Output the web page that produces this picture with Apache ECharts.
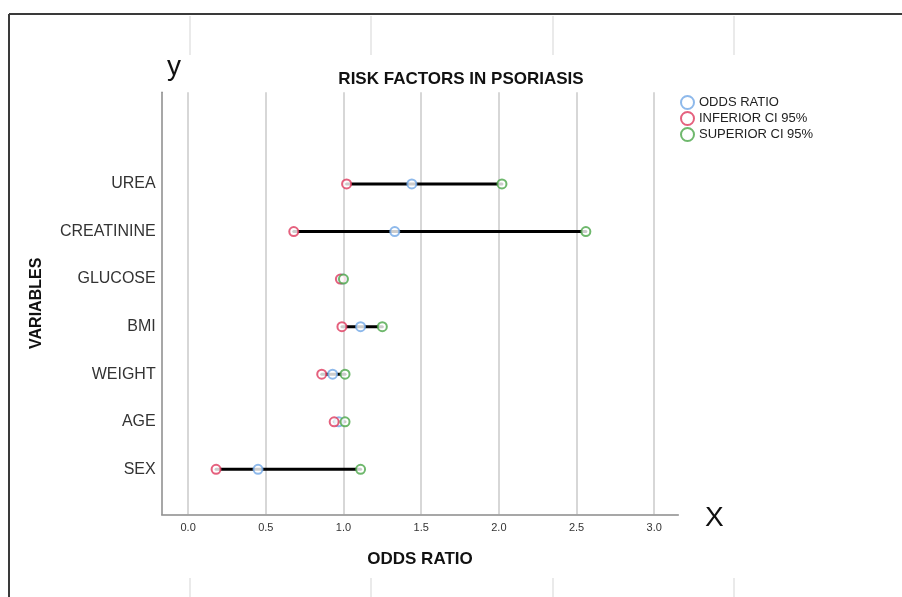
<!DOCTYPE html>
<html>
<head>
<meta charset="utf-8">
<script src="https://cdn.jsdelivr.net/npm/echarts@6/dist/echarts.min.js"></script>
<style>html,body{margin:0;padding:0;background:#fff;}#c{width:902px;height:597px;}</style>
</head>
<body>
<div id="c"></div>
<script>
const categories = ['SEX', 'AGE', 'WEIGHT', 'BMI', 'GLUCOSE', 'CREATININE', 'UREA'];
const oddsRatio  = [0.45, 0.97, 0.93, 1.11, 0.99, 1.33, 1.44];
const inferiorCI = [0.18, 0.94, 0.86, 0.99, 0.98, 0.68, 1.02];
const superiorCI = [1.11, 1.01, 1.01, 1.25, 1.00, 2.56, 2.02];
const seriesNames = ['ODDS RATIO', 'INFERIOR CI 95%', 'SUPERIOR CI 95%'];
const xMin = -0.17, xMax = 3.155;

const FONT = '"Liberation Sans", Arial, sans-serif';
const colors = ['#72a8e6', '#de3a5e', '#4ba649'];

const chart = echarts.init(document.getElementById('c'), null, {renderer: 'canvas'});

function pts(vals) { return categories.map((c, i) => [vals[i], c]); }
const ranges = categories.map((c, i) => [inferiorCI[i], superiorCI[i], c]);

const frame = [
  {type: 'line', shape: {x1: 9, y1: 14, x2: 902, y2: 14}, style: {stroke: '#3a3a3a', lineWidth: 2}},
  {type: 'line', shape: {x1: 9, y1: 14, x2: 9, y2: 597}, style: {stroke: '#3a3a3a', lineWidth: 2}}
];
[190, 371, 553, 734].forEach(x => {
  frame.push({type: 'line', shape: {x1: x, y1: 16, x2: x, y2: 55}, style: {stroke: '#dcdcdc', lineWidth: 1.2}});
  frame.push({type: 'line', shape: {x1: x, y1: 578, x2: x, y2: 597}, style: {stroke: '#dcdcdc', lineWidth: 1.2}});
});
frame.push({type: 'text', left: 167, top: 53, style: {text: 'y', font: '28px ' + FONT, fill: '#111'}});
frame.push({type: 'text', left: 705, top: 504, style: {text: 'X', font: '28px ' + FONT, fill: '#111'}});

chart.setOption({
  animation: false,
  backgroundColor: '#fff',
  title: {
    text: 'RISK FACTORS IN PSORIASIS',
    left: 456, top: 66, textAlign: 'center',
    textStyle: {fontFamily: FONT, fontSize: 17, fontWeight: 'bold', color: '#111'}
  },
  legend: {
    orient: 'vertical', left: 675, top: 90,
    itemWidth: 13, itemHeight: 13, itemGap: 1,
    icon: 'emptyCircle',
    data: seriesNames,
    textStyle: {fontFamily: FONT, fontSize: 13, color: '#222'}
  },
  graphic: frame,
  grid: [
    {left: 161.7, right: 223.7, top: 92.3, bottom: 82.7},
    {left: 161.7, right: 223.7, top: 160.2, bottom: 103.9}
  ],
  xAxis: [
    {
      type: 'value', gridIndex: 0, min: xMin, max: xMax,
      name: 'ODDS RATIO', nameLocation: 'middle', nameGap: 37,
      nameTextStyle: {fontFamily: FONT, fontSize: 17, fontWeight: 'bold', color: '#111'},
      axisLine: {show: true, onZero: false, lineStyle: {color: '#8a8a8a', width: 1.5}},
      axisTick: {show: false},
      axisLabel: {fontFamily: FONT, fontSize: 11, color: '#333', margin: 8,
        showMinLabel: false, showMaxLabel: false, formatter: v => v.toFixed(1)},
      splitLine: {show: true, showMinLine: false, showMaxLine: false, lineStyle: {color: '#cacaca', width: 1.5}}
    },
    {
      type: 'value', gridIndex: 1, min: xMin, max: xMax, show: false,
      splitLine: {show: false}
    }
  ],
  yAxis: [
    {
      type: 'value', gridIndex: 0, min: 0, max: 1,
      name: 'VARIABLES', nameLocation: 'middle', nameRotate: 90, nameGap: 117,
      nameTextStyle: {fontFamily: FONT, fontSize: 16, fontWeight: 'bold', color: '#111'},
      axisLine: {show: true, onZero: false, lineStyle: {color: '#8a8a8a', width: 1.5}},
      axisTick: {show: false}, axisLabel: {show: false}, splitLine: {show: false}
    },
    {
      type: 'category', gridIndex: 1, data: categories,
      axisLine: {show: false, onZero: false}, axisTick: {show: false},
      axisLabel: {fontFamily: FONT, fontSize: 16, color: '#333', margin: 6},
      splitLine: {show: false}
    }
  ],
  series: [
    {
      type: 'custom', xAxisIndex: 1, yAxisIndex: 1, z: 2, silent: true,
      encode: {x: [0, 1], y: 2},
      data: ranges,
      renderItem: function (params, api) {
        const a = api.coord([api.value(0), api.value(2)]);
        const b = api.coord([api.value(1), api.value(2)]);
        return {type: 'line', shape: {x1: a[0], y1: a[1], x2: b[0], y2: b[1]},
          style: {stroke: '#000', lineWidth: 3, lineCap: 'round'}};
      }
    },
    {
      name: seriesNames[0], type: 'scatter', xAxisIndex: 1, yAxisIndex: 1, z: 3,
      symbol: 'emptyCircle', symbolSize: 9, data: pts(oddsRatio),
      itemStyle: {color: colors[0], borderWidth: 1.5}
    },
    {
      name: seriesNames[1], type: 'scatter', xAxisIndex: 1, yAxisIndex: 1, z: 4,
      symbol: 'emptyCircle', symbolSize: 9, data: pts(inferiorCI),
      itemStyle: {color: colors[1], borderWidth: 1.5}
    },
    {
      name: seriesNames[2], type: 'scatter', xAxisIndex: 1, yAxisIndex: 1, z: 4,
      symbol: 'emptyCircle', symbolSize: 9, data: pts(superiorCI),
      itemStyle: {color: colors[2], borderWidth: 1.5}
    }
  ]
});
</script>
</body>
</html>
